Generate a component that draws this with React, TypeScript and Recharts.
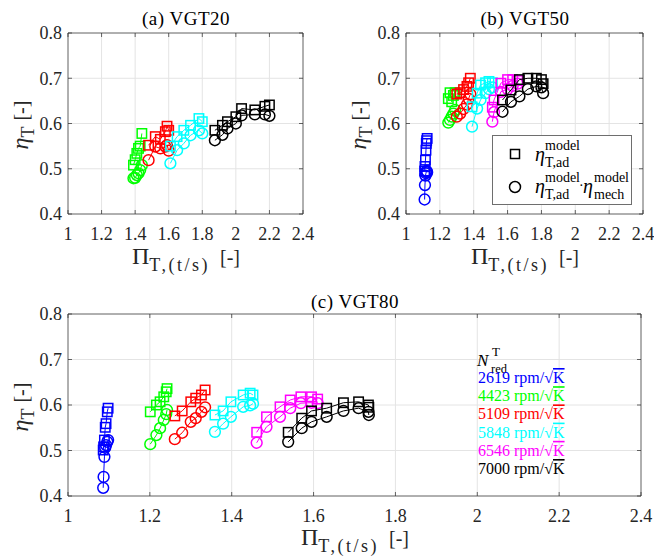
import React from 'react';
import { ScatterChart, Scatter, XAxis, YAxis, CartesianGrid, ReferenceArea } from 'recharts';

// axis ticks shared by all three panels
const xTicks = [1, 1.2, 1.4, 1.6, 1.8, 2, 2.2, 2.4];
const yTicks = [0.4, 0.5, 0.6, 0.7, 0.8];

// reduced turbine speeds and their line colours
const speeds = ['2619', '4423', '5109', '5848', '6546', '7000'];
const colors = ['#0000ff', '#00ff00', '#ff0000', '#00ffff', '#ff00ff', '#000000'];

// (a) VGT20 - pressure ratio, eta_T,ad model, eta_T,ad * eta_mech model (one row per speed)
const vgt20Pr = [
  [],
  [1.39, 1.40, 1.41, 1.42, 1.43, 1.44],
  [1.48, 1.52, 1.55, 1.58, 1.59, 1.60],
  [1.61, 1.65, 1.69, 1.73, 1.78, 1.80],
  [],
  [1.875, 1.92, 1.95, 2.0, 2.034, 2.113, 2.173, 2.2],
];
const vgt20Ad = [
  [],
  [0.508, 0.52, 0.534, 0.545, 0.55, 0.578],
  [0.552, 0.571, 0.565, 0.582, 0.594, 0.585],
  [0.55, 0.571, 0.585, 0.596, 0.611, 0.604],
  [],
  [0.585, 0.596, 0.604, 0.615, 0.633, 0.63, 0.638, 0.641],
];
const vgt20Tot = [
  [],
  [0.479, 0.48, 0.486, 0.49, 0.497, 0.508],
  [0.519, 0.549, 0.545, 0.549, 0.552, 0.54],
  [0.512, 0.541, 0.556, 0.574, 0.585, 0.578],
  [],
  [0.563, 0.575, 0.589, 0.6, 0.618, 0.62, 0.62, 0.617],
];

// (b) VGT50
const vgt50Pr = [
  [1.11, 1.112, 1.115, 1.118, 1.12, 1.122, 1.125],
  [1.25, 1.26, 1.27, 1.28, 1.29],
  [1.30, 1.32, 1.34, 1.36, 1.37, 1.38],
  [1.39, 1.42, 1.44, 1.47, 1.49, 1.51],
  [1.51, 1.52, 1.56, 1.60, 1.63, 1.66],
  [1.57, 1.62, 1.67, 1.72, 1.77, 1.80, 1.81],
];
const vgt50Ad = [
  [0.495, 0.505, 0.519, 0.541, 0.556, 0.562, 0.567],
  [0.655, 0.668, 0.648, 0.662, 0.668],
  [0.665, 0.668, 0.675, 0.682, 0.69, 0.70],
  [0.637, 0.667, 0.685, 0.69, 0.693, 0.69],
  [0.636, 0.652, 0.689, 0.697, 0.697, 0.695],
  [0.652, 0.674, 0.697, 0.70, 0.70, 0.697, 0.688],
];
const vgt50Tot = [
  [0.432, 0.464, 0.485, 0.49, 0.494, 0.495, 0.492],
  [0.602, 0.608, 0.615, 0.622, 0.63],
  [0.615, 0.622, 0.632, 0.642, 0.655, 0.665],
  [0.593, 0.633, 0.652, 0.667, 0.676, 0.68],
  [0.604, 0.625, 0.67, 0.676, 0.683, 0.688],
  [0.626, 0.648, 0.66, 0.676, 0.682, 0.68, 0.667],
];

// (c) VGT80
const vgt80Pr = [
  [1.086, 1.087, 1.089, 1.091, 1.093, 1.096, 1.098],
  [1.201, 1.216, 1.225, 1.234, 1.24, 1.242],
  [1.261, 1.279, 1.3, 1.312, 1.326, 1.335],
  [1.359, 1.379, 1.398, 1.428, 1.445, 1.452],
  [1.461, 1.485, 1.518, 1.543, 1.569, 1.595, 1.61],
  [1.538, 1.571, 1.595, 1.632, 1.673, 1.71, 1.734, 1.735],
];
const vgt80Ad = [
  [0.501, 0.508, 0.523, 0.551, 0.559, 0.585, 0.593],
  [0.585, 0.6, 0.607, 0.618, 0.629, 0.636],
  [0.576, 0.587, 0.607, 0.615, 0.622, 0.633],
  [0.578, 0.587, 0.607, 0.622, 0.626, 0.622],
  [0.54, 0.574, 0.596, 0.611, 0.618, 0.618, 0.613],
  [0.54, 0.571, 0.587, 0.593, 0.605, 0.607, 0.6, 0.595],
];
const vgt80Tot = [
  [0.418, 0.442, 0.486, 0.506, 0.512, 0.519, 0.523],
  [0.514, 0.534, 0.549, 0.567, 0.58, 0.589],
  [0.525, 0.539, 0.563, 0.571, 0.585, 0.595],
  [0.541, 0.559, 0.574, 0.596, 0.599, 0.603],
  [0.517, 0.552, 0.574, 0.593, 0.604, 0.605, 0.604],
  [0.519, 0.549, 0.563, 0.574, 0.587, 0.593, 0.585, 0.578],
];

const FONT = "'Liberation Serif', 'DejaVu Serif', serif";
const AXIS = '#262626';
const Y_W = 40;
const X_H = 30;

const toPoints = (xs: number[], ys: number[]) => xs.map((x, i) => ({ x, y: ys[i] }));

const square = (color: string) => (p: any) => (
  <rect x={p.cx - 4.7} y={p.cy - 4.7} width={9.4} height={9.4} fill="none" stroke={color} strokeWidth={1.5} />
);
const circle = (color: string) => (p: any) => (
  <circle cx={p.cx} cy={p.cy} r={5.4} fill="none" stroke={color} strokeWidth={1.5} />
);

interface PanelProps {
  left: number;
  top: number;
  width: number;
  height: number;
  margin: { top: number; right: number; bottom: number; left: number };
  pr: number[][];
  ad: number[][];
  tot: number[][];
}

const Panel = ({ left, top, width, height, margin, pr, ad, tot }: PanelProps) => {
  const pl = margin.left + Y_W;
  const pr_ = width - margin.right;
  const pt = margin.top;
  const pb = height - margin.bottom - X_H;

  // inward ticks on both sides of the box, MATLAB style
  const xTick = (p: any) => (
    <g>
      <line x1={p.x} x2={p.x} y1={pb} y2={pb - 4} stroke={AXIS} strokeWidth={0.7} />
      <line x1={p.x} x2={p.x} y1={pt} y2={pt + 4} stroke={AXIS} strokeWidth={0.7} />
      <text x={p.x} y={pb + 13} dy="0.71em" textAnchor="middle" fontSize={18} fill={AXIS} fontFamily={FONT}>
        {p.payload.value}
      </text>
    </g>
  );
  const yTick = (p: any) => (
    <g>
      <line x1={pl} x2={pl + 4} y1={p.y} y2={p.y} stroke={AXIS} strokeWidth={0.7} />
      <line x1={pr_} x2={pr_ - 4} y1={p.y} y2={p.y} stroke={AXIS} strokeWidth={0.7} />
      <text x={pl - 6} y={p.y} dy="0.355em" textAnchor="end" fontSize={18} fill={AXIS} fontFamily={FONT}>
        {p.payload.value}
      </text>
    </g>
  );

  return (
    <div style={{ position: 'absolute', left, top }}>
      <ScatterChart width={width} height={height} margin={margin}>
        <CartesianGrid stroke="#e4e4e4" strokeWidth={1} />
        <XAxis
          type="number"
          dataKey="x"
          domain={[1, 2.4]}
          ticks={xTicks}
          height={X_H}
          axisLine={false}
          tickLine={false}
          tick={xTick}
          interval={0}
        />
        <YAxis
          type="number"
          dataKey="y"
          domain={[0.4, 0.8]}
          ticks={yTicks}
          width={Y_W}
          axisLine={false}
          tickLine={false}
          tick={yTick}
          interval={0}
        />
        <ReferenceArea x1={1} x2={2.4} y1={0.4} y2={0.8} fill="none" stroke="#6e6e6e" strokeWidth={1} />
        {speeds.map((s, i) =>
          pr[i].length === 0
            ? null
            : [
                <Scatter
                  key={`sq-${s}`}
                  data={toPoints(pr[i], ad[i])}
                  shape={square(colors[i])}
                  line={{ stroke: colors[i], strokeWidth: 1 }}
                  isAnimationActive={false}
                />,
                <Scatter
                  key={`ci-${s}`}
                  data={toPoints(pr[i], tot[i])}
                  shape={circle(colors[i])}
                  line={{ stroke: colors[i], strokeWidth: 1 }}
                  isAnimationActive={false}
                />,
              ]
        )}
      </ScatterChart>
    </div>
  );
};

const XLabel = ({ cx, y }: { cx: number; y: number }) => (
  <text x={cx} y={y} textAnchor="middle" fill={AXIS} fontFamily={FONT}>
    <tspan fontSize={24}>Π</tspan>
    <tspan fontSize={18} dy={7} letterSpacing={2.5}>T,(t/s)</tspan>
    <tspan fontSize={20} dy={-7} dx={10}>[-]</tspan>
  </text>
);

const YLabel = ({ x, cy }: { x: number; cy: number }) => (
  <text transform={`translate(${x},${cy}) rotate(-90)`} textAnchor="middle" fill={AXIS} fontFamily={FONT}>
    <tspan fontSize={24} fontStyle="italic">η</tspan>
    <tspan fontSize={18} dy={6}>T</tspan>
    <tspan fontSize={20} dy={-6} dx={6}>[-]</tspan>
  </text>
);

export default function App() {
  return (
    <div style={{ position: 'absolute', left: 0, top: 0, width: 654, height: 559, background: '#fff', fontFamily: FONT }}>
      <Panel left={0} top={0} width={330} height={280}
        margin={{ top: 33, right: 27, bottom: 36, left: 28 }}
        pr={vgt20Pr} ad={vgt20Ad} tot={vgt20Tot} />
      <Panel left={327} top={0} width={327} height={280}
        margin={{ top: 33, right: 11, bottom: 36, left: 39 }}
        pr={vgt50Pr} ad={vgt50Ad} tot={vgt50Tot} />
      <Panel left={0} top={280} width={654} height={279}
        margin={{ top: 34, right: 13, bottom: 33, left: 28 }}
        pr={vgt80Pr} ad={vgt80Ad} tot={vgt80Tot} />

      <svg width={654} height={559} style={{ position: 'absolute', left: 0, top: 0, pointerEvents: 'none' }} fontFamily={FONT}>
        <text x={186} y={25} textAnchor="middle" fontSize={19} letterSpacing={0.5} fill="#000">(a) VGT20</text>
        <text x={525} y={25} textAnchor="middle" fontSize={19} letterSpacing={0.5} fill="#000">(b) VGT50</text>
        <text x={355} y={308} textAnchor="middle" fontSize={19} letterSpacing={0.5} fill="#000">(c) VGT80</text>

        <XLabel cx={186} y={264} />
        <XLabel cx={525} y={264} />
        <XLabel cx={355} y={545} />
        <YLabel x={28} cy={125} />
        <YLabel x={366} cy={125} />
        <YLabel x={28} cy={407} />

        {/* legend of panel (b) */}
        <rect x={492.5} y={135.5} width={139} height={69} fill="#fff" stroke="#6e6e6e" strokeWidth={1} />
        <rect x={510.5} y={149.5} width={9} height={9} fill="none" stroke="#000" strokeWidth={1.5} />
        <circle cx={515} cy={187} r={5.5} fill="none" stroke="#000" strokeWidth={1.5} />
        <g fill="#000">
          <text x={535} y={161} fontSize={20} fontStyle="italic">η</text>
          <text x={545} y={150} fontSize={14}>model</text>
          <text x={545} y={167} fontSize={14}>T,ad</text>
          <text x={535} y={193} fontSize={20} fontStyle="italic">η</text>
          <text x={545} y={182} fontSize={14}>model</text>
          <text x={545} y={199} fontSize={14}>T,ad</text>
          <text x={579} y={190} fontSize={14}>·</text>
          <text x={583} y={193} fontSize={20} fontStyle="italic">η</text>
          <text x={594} y={182} fontSize={14}>model</text>
          <text x={594} y={199} fontSize={14}>mech</text>
        </g>

        {/* speed annotation of panel (c) */}
        <text x={477} y={366} fontSize={17} fontStyle="italic" fill="#000">N</text>
        <text x={492} y={356} fontSize={13} fill="#000">T</text>
        <text x={491} y={373} fontSize={12.5} fill="#000">red</text>
        {speeds.map((s, i) => (
          <text key={s} x={478} y={383 + i * 18.2} fontSize={16} fill={colors[i]}>
            {s} rpm/√<tspan style={{ textDecoration: 'overline' }}>K</tspan>
          </text>
        ))}
      </svg>
    </div>
  );
}
